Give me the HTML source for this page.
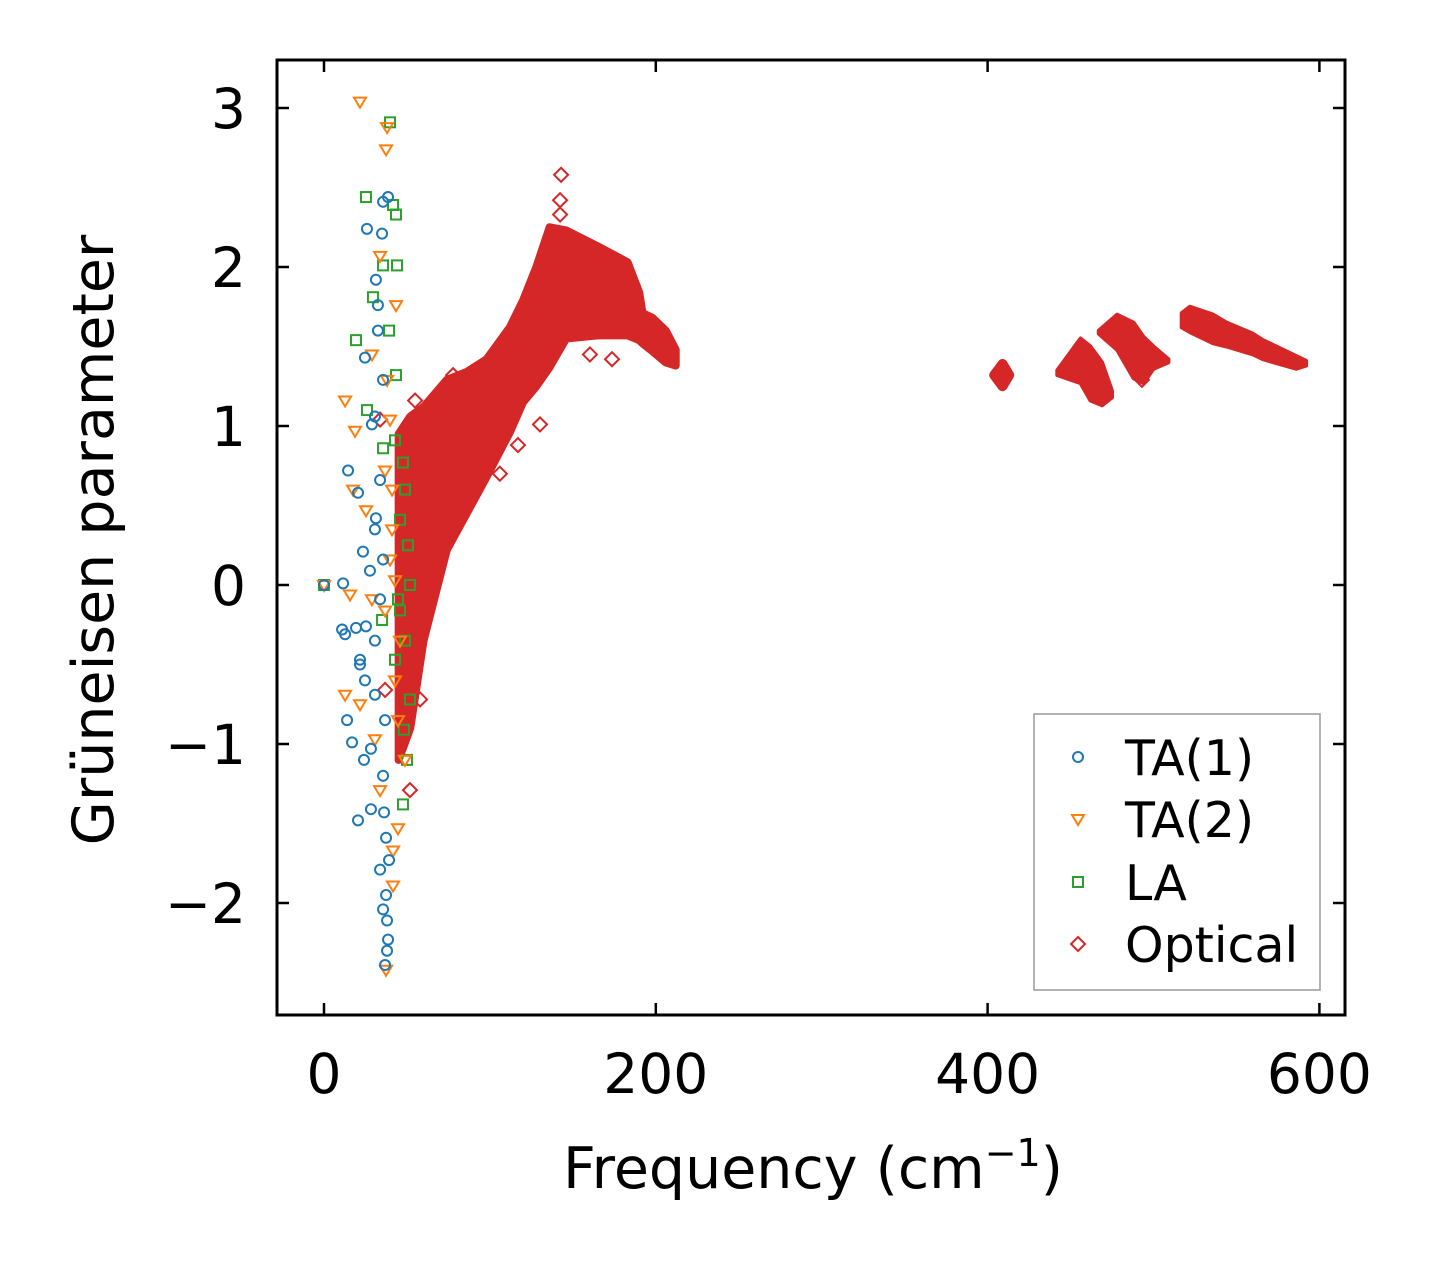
<!DOCTYPE html>
<html><head><meta charset="utf-8"><style>
body{margin:0;background:#fff;}
svg{display:block;font-family:"DejaVu Sans","Liberation Sans",sans-serif;}
</style></head><body>
<svg id="chart" width="1433" height="1264" viewBox="0 0 1433 1264" xmlns="http://www.w3.org/2000/svg">
<rect width="1433" height="1264" fill="#fff"/>
<g id="marks"></g>
<g id="axes"></g>
<text transform="translate(113,540) rotate(-90)" text-anchor="middle" font-size="57">Grüneisen parameter</text>
<text x="813" y="1188" text-anchor="middle" font-size="57">Frequency (cm<tspan dy="-22" font-size="38">−1</tspan><tspan dy="22">)</tspan></text>
<g>
<rect x="1034" y="714" width="286" height="276" fill="#fff" stroke="#999" stroke-width="1.5"/>
<circle cx="1078" cy="757" r="5" fill="none" stroke="#1f77b4" stroke-width="2"/>
<text x="1125" y="775" font-size="49">TA(1)</text>
<path d="M1072,815 L1084,815 L1078,825 Z" fill="none" stroke="#ff7f0e" stroke-width="2"/>
<text x="1125" y="837" font-size="49">TA(2)</text>
<rect x="1073" y="877" width="10" height="10" fill="none" stroke="#2ca02c" stroke-width="2"/>
<text x="1125" y="900" font-size="49">LA</text>
<path d="M1078,937 L1085,944 L1078,951 L1071,944 Z" fill="none" stroke="#d62728" stroke-width="2"/>
<text x="1125" y="962" font-size="49">Optical</text>
</g>
</svg>
<script>
const xTicks=[0,200,400,600];
const yTicks=[3,2,1,0,-1,-2];
const yTickLabels=["3","2","1","0","−1","−2"];
const ta1F=[38.6,35.6,25.9,35,31.3,32.5,32.5,24.7,35.6,30.7,28.9,14.5,20.5,31.3,23.5,11.5,35.6,19.3,25.3,21.7,24.7,13.9,16.9,28.3,24.1,35.6,28.3,20.5,36.2,37.4,39.2,33.8,37.4,35.6,38,38.6,38,36.8,10.9,12.7,30.7,30.7,36.8,33.8,27.7,30.7,33.8,21.7,0];
const ta1G=[2.44,2.41,2.24,2.21,1.92,1.76,1.60,1.43,1.29,1.06,1.01,0.72,0.58,0.42,0.21,0.01,0.16,-0.27,-0.26,-0.50,-0.60,-0.85,-0.99,-1.03,-1.10,-1.20,-1.41,-1.48,-1.43,-1.59,-1.73,-1.79,-1.95,-2.04,-2.11,-2.23,-2.30,-2.39,-0.28,-0.31,-0.69,-0.35,-0.85,-0.09,0.09,0.35,0.66,-0.47,0];
const ta2F=[21.7,38,37.4,33.8,43.4,28.9,38,12.7,18.7,39.8,17.5,25.3,36.8,41,15.7,28.9,12.7,21.7,45.8,42.8,33.8,41.6,41.6,37.4,44.6,39.8,36.8,44.6,48.8,30.7,42.8,41,0];
const ta2G=[3.04,2.88,2.74,2.07,1.76,1.45,1.29,1.16,0.97,1.04,0.6,0.47,0.72,0.35,-0.06,-0.09,-0.69,-0.75,-0.35,-0.6,-1.29,-1.67,-1.89,-2.42,-1.53,0.16,-0.16,-0.85,-1.1,-0.97,0.03,0.6,0];
const laF=[39.8,25.3,41.6,43.4,44,35.6,29.5,19.3,43.4,25.9,47.6,35.6,48.8,50.6,51.8,48.8,51.8,50,47.6,42.8,44.6,45.8,42.8,39.2,45.8,48.2,35,0];
const laG=[2.91,2.44,2.39,2.33,2.01,2.01,1.81,1.54,1.32,1.1,0.77,0.86,0.6,0.25,0,-0.35,-0.72,-1.1,-1.38,-0.47,-0.09,0.41,0.91,1.6,-0.16,-0.91,-0.22,0];
const optF=[142.9,142.3,142.3,77.8,91,66.9,54.9,51.8,47.6,57.9,173.6,160.3,130.2,116.9,493,36.8,33.8,60,66,72,84,106,118];
const optG=[2.58,2.42,2.33,1.32,1.29,1.16,1.16,-1.29,-0.72,-0.72,1.42,1.45,1.01,0.88,1.29,-0.66,1.04,1.05,1.13,1.2,1.22,0.7,1.5];
const mainF=[45,52,60,74,86,98,112,120,128,136,146,165,183,190,192,198,206,212];
const mainHi=[0.95,1.06,1.12,1.29,1.34,1.42,1.62,1.79,2.0,2.25,2.23,2.13,2.03,1.84,1.71,1.68,1.60,1.48];
const mainLo=[-1.1,-0.9,-0.35,0.22,0.45,0.68,0.96,1.15,1.25,1.37,1.55,1.57,1.57,1.54,1.52,1.47,1.40,1.38];
const cAF=[404,409,413], cAHi=[1.32,1.39,1.32], cALo=[1.32,1.25,1.32];
const cBF=[442,456,462,469,475], cBHi=[1.35,1.55,1.5,1.4,1.22], cBLo=[1.32,1.27,1.16,1.13,1.18];
const cCF=[467,478,488,494,500,509], cCHi=[1.6,1.7,1.65,1.56,1.5,1.42], cCLo=[1.58,1.48,1.3,1.27,1.36,1.40];
const cDF=[517,522,536,544,560,566,586,592], cDHi=[1.71,1.75,1.70,1.65,1.58,1.54,1.44,1.41], cDLo=[1.62,1.59,1.52,1.50,1.45,1.42,1.36,1.38];

const X0=277,X1=1345,Y0=60,Y1=1015;
const sx=v=>324+v*1.659;
const sy=v=>585-v*159;
const NS="http://www.w3.org/2000/svg";
const marks=document.getElementById('marks');
const axes=document.getElementById('axes');
function mk(tag,attrs,parent){const e=document.createElementNS(NS,tag);for(const k in attrs)e.setAttribute(k,attrs[k]);parent.appendChild(e);return e;}

function band(F,Hi,Lo,name,sw){
  let pts=[];
  for(let i=0;i<F.length;i++)pts.push(sx(F[i])+','+sy(Hi[i]));
  for(let i=F.length-1;i>=0;i--)pts.push(sx(F[i])+','+sy(Lo[i]));
  const p=mk('polygon',{points:pts.join(' '),fill:'#d62728',stroke:'#d62728','stroke-width':sw,'stroke-linejoin':'round'},marks);
  
  
}
band(mainF,mainHi,mainLo,'optical-band-main',8);
band(cAF,cAHi,cALo,'optical-band-410',10);
band(cBF,cBHi,cBLo,'optical-band-455',4);
band(cCF,cCHi,cCLo,'optical-band-490',4);
band(cDF,cDHi,cDLo,'optical-band-555',4);

for(let i=0;i<optF.length;i++){
  const x=sx(optF[i]),y=sy(optG[i]);
  const p=mk('path',{d:`M${x},${y-7} L${x+7},${y} L${x},${y+7} L${x-7},${y} Z`,fill:'none',stroke:'#d62728','stroke-width':2},marks);
  
  
}
for(let i=0;i<laF.length;i++){
  const x=sx(laF[i]),y=sy(laG[i]);
  const p=mk('rect',{x:x-5,y:y-5,width:10,height:10,fill:'none',stroke:'#2ca02c','stroke-width':2},marks);
  
  
}
for(let i=0;i<ta2F.length;i++){
  const x=sx(ta2F[i]),y=sy(ta2G[i]);
  const p=mk('path',{d:`M${x-6},${y-4} L${x+6},${y-4} L${x},${y+6} Z`,fill:'none',stroke:'#ff7f0e','stroke-width':2},marks);
  
  
}
for(let i=0;i<ta1F.length;i++){
  const p=mk('circle',{cx:sx(ta1F[i]),cy:sy(ta1G[i]),r:5,fill:'none',stroke:'#1f77b4','stroke-width':2},marks);
  
  
}

const frame=mk('rect',{x:X0,y:Y0,width:X1-X0,height:Y1-Y0,fill:'none',stroke:'#000','stroke-width':3},axes);


xTicks.forEach(v=>{
  const x=sx(v);
  const t1=mk('line',{x1:x,y1:Y1,x2:x,y2:Y1-12,stroke:'#000','stroke-width':2.5},axes);
  
  
  const t2=mk('line',{x1:x,y1:Y0,x2:x,y2:Y0+12,stroke:'#000','stroke-width':2.5},axes);
  
  
  const l=mk('text',{x:x,y:1093,'text-anchor':'middle','font-size':55},axes);
  l.textContent=String(v);
  
  
});
yTicks.forEach((v,i)=>{
  const y=sy(v);
  const t1=mk('line',{x1:X0,y1:y,x2:X0+12,y2:y,stroke:'#000','stroke-width':2.5},axes);
  
  
  const t2=mk('line',{x1:X1,y1:y,x2:X1-12,y2:y,stroke:'#000','stroke-width':2.5},axes);
  
  
  const l=mk('text',{x:246,y:y+20,'text-anchor':'end','font-size':55},axes);
  l.textContent=yTickLabels[i];
  
  
});
</script>
</body></html>
